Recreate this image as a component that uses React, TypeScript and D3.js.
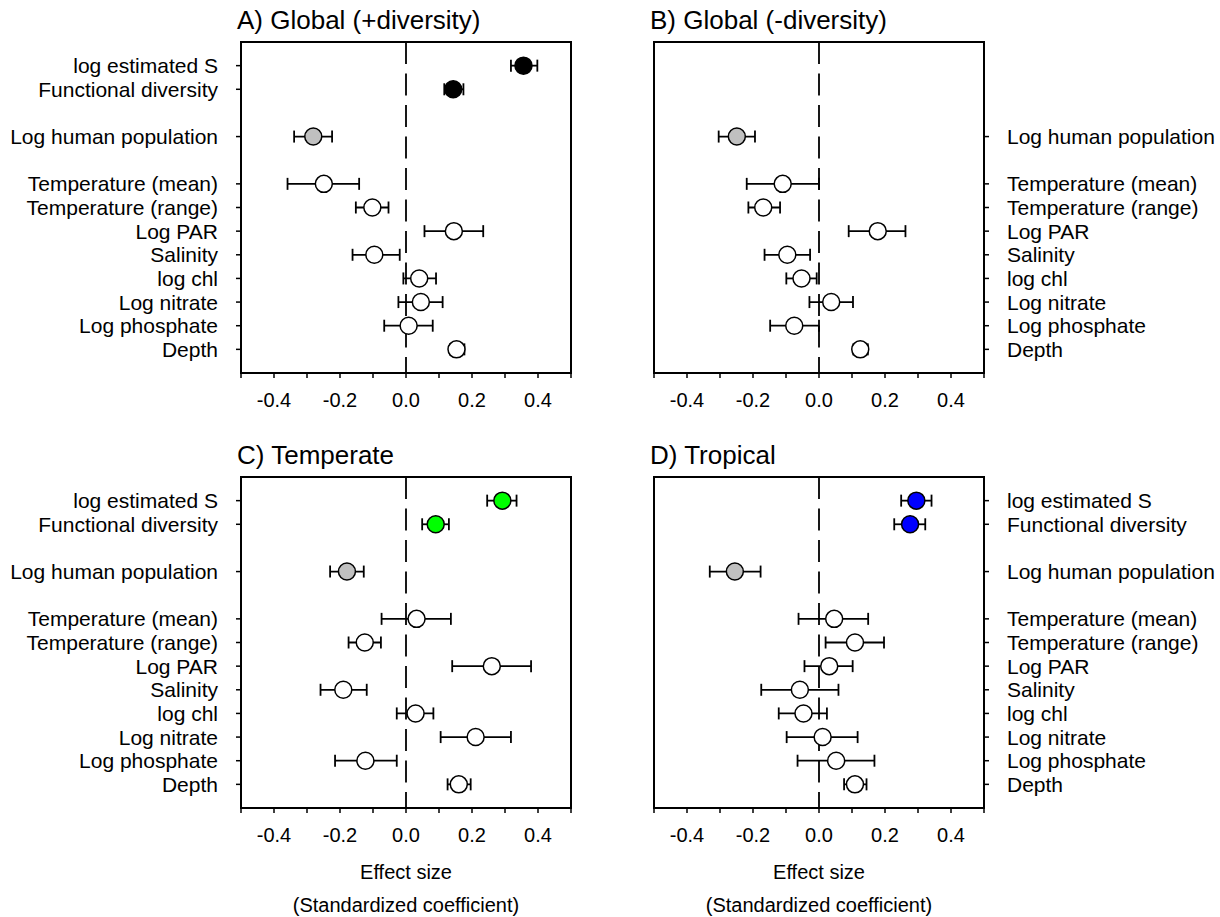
import React from "react"
import * as d3 from "d3"

// predictor rows, top to bottom, and the slot (in row units) each one sits in
const predictors = [
    "log estimated S",
    "Functional diversity",
    "Log human population",
    "Temperature (mean)",
    "Temperature (range)",
    "Log PAR",
    "Salinity",
    "log chl",
    "Log nitrate",
    "Log phosphate",
    "Depth",
]
const slots = [1, 2, 4, 6, 7, 8, 9, 10, 11, 12, 13]

// effect sizes with lower / upper error limits (null = not in model)
const globalPlusEst = [0.356, 0.143, -0.281, -0.249, -0.102, 0.145, -0.096, 0.04, 0.045, 0.008, 0.153]
const globalPlusLo = [0.318, 0.116, -0.339, -0.359, -0.152, 0.056, -0.162, -0.008, -0.023, -0.066, 0.133]
const globalPlusHi = [0.398, 0.174, -0.224, -0.142, -0.053, 0.234, -0.019, 0.091, 0.111, 0.081, 0.177]

const globalMinusEst = [null, null, -0.249, -0.11, -0.169, 0.178, -0.096, -0.053, 0.037, -0.075, 0.125]
const globalMinusLo = [null, null, -0.304, -0.219, -0.214, 0.09, -0.165, -0.099, -0.029, -0.148, 0.104]
const globalMinusHi = [null, null, -0.194, 0.0, -0.118, 0.262, -0.027, -0.007, 0.103, 0.0, 0.148]

const temperateEst = [0.292, 0.09, -0.179, 0.032, -0.125, 0.26, -0.19, 0.029, 0.211, -0.123, 0.16]
const temperateLo = [0.246, 0.049, -0.23, -0.074, -0.174, 0.14, -0.259, -0.028, 0.105, -0.215, 0.126]
const temperateHi = [0.335, 0.13, -0.128, 0.136, -0.076, 0.379, -0.119, 0.083, 0.318, -0.028, 0.196]

const tropicalEst = [0.295, 0.276, -0.255, 0.046, 0.109, 0.031, -0.058, -0.047, 0.011, 0.052, 0.109]
const tropicalLo = [0.249, 0.228, -0.331, -0.062, 0.02, -0.044, -0.175, -0.122, -0.098, -0.065, 0.076]
const tropicalHi = [0.341, 0.322, -0.177, 0.149, 0.197, 0.102, 0.059, 0.024, 0.117, 0.168, 0.144]

const xTicks = [-0.5, -0.4, -0.3, -0.2, -0.1, 0, 0.1, 0.2, 0.3, 0.4, 0.5]
const xLabelTicks = [-0.4, -0.2, 0, 0.2, 0.4]

const FONT = "'Liberation Sans', Arial, Helvetica, sans-serif"

type PanelProps = {
    title: string
    left: number
    top: number
    est: (number | null)[]
    lo: (number | null)[]
    hi: (number | null)[]
    divColor: string
    labelSide: "left" | "right"
    axisTitle: boolean
}

function Panel({ title, left, top, est, lo, hi, divColor, labelSide, axisTitle }: PanelProps) {
    const w = 330
    const h = 331
    const x = d3.scaleLinear().domain([-0.5, 0.5]).range([left, left + w])
    const y = d3.scaleLinear().domain([0, 14]).range([top, top + h])
    // plain hyphen for negatives, like the original
    const fmt = (v: number) => d3.format(".1f")(v).replace("\u2212", "-")
    const cap = 6
    const r = 8.5

    const fillFor = (i: number) => (i < 2 ? divColor : i === 2 ? "#c0c0c0" : "#ffffff")

    return (
        <g>
            <text x={left - 4} y={top - 13} fontSize={26} fontFamily={FONT}>
                {title}
            </text>
            {/* zero line */}
            <line
                x1={x(0)}
                x2={x(0)}
                y1={top}
                y2={top + h}
                stroke="#000"
                strokeWidth={1.8}
                strokeDasharray="22,9.5"
            />
            {/* x ticks */}
            {xTicks.map((t) => (
                <line key={t} x1={x(t)} x2={x(t)} y1={top + h} y2={top + h + 5} stroke="#000" strokeWidth={1.5} />
            ))}
            {xLabelTicks.map((t) => (
                <text key={t} x={x(t)} y={top + h + 34} textAnchor="middle" fontSize={20} fontFamily={FONT}>
                    {fmt(t)}
                </text>
            ))}
            {/* y ticks + labels */}
            {predictors.map((p, i) => {
                if (est[i] == null) return null
                const yy = y(slots[i])
                const bx = labelSide === "left" ? left : left + w
                const dir = labelSide === "left" ? -1 : 1
                return (
                    <g key={p}>
                        <line x1={bx} x2={bx + dir * 5} y1={yy} y2={yy} stroke="#000" strokeWidth={1.5} />
                        <text
                            x={bx + dir * 23}
                            y={yy}
                            dy="0.36em"
                            textAnchor={labelSide === "left" ? "end" : "start"}
                            fontSize={21}
                            fontFamily={FONT}
                        >
                            {p}
                        </text>
                    </g>
                )
            })}
            {/* error bars and points */}
            {predictors.map((p, i) => {
                const e = est[i]
                const l = lo[i]
                const u = hi[i]
                if (e == null || l == null || u == null) return null
                const yy = y(slots[i])
                return (
                    <g key={"pt" + p} stroke="#000" strokeWidth={1.8}>
                        <line x1={x(l)} x2={x(u)} y1={yy} y2={yy} />
                        <line x1={x(l)} x2={x(l)} y1={yy - cap} y2={yy + cap} />
                        <line x1={x(u)} x2={x(u)} y1={yy - cap} y2={yy + cap} />
                        <circle cx={x(e)} cy={yy} r={r} fill={fillFor(i)} strokeWidth={1.5} />
                    </g>
                )
            })}
            <rect x={left} y={top} width={w} height={h} fill="none" stroke="#000" strokeWidth={2} />
            {axisTitle && (
                <g fontSize={20} fontFamily={FONT} textAnchor="middle">
                    <text x={left + w / 2} y={top + h + 71}>
                        Effect size
                    </text>
                    <text x={left + w / 2} y={top + h + 104}>
                        (Standardized coefficient)
                    </text>
                </g>
            )}
        </g>
    )
}

export default function App() {
    return (
        <svg
            width={1220}
            height={917}
            viewBox="0 0 1220 917"
            style={{ position: "absolute", left: 0, top: 0, background: "#fff" }}
        >
            <rect width={1220} height={917} fill="#fff" />
            <Panel
                title="A) Global (+diversity)"
                left={241}
                top={42}
                est={globalPlusEst}
                lo={globalPlusLo}
                hi={globalPlusHi}
                divColor="#000000"
                labelSide="left"
                axisTitle={false}
            />
            <Panel
                title="B) Global (-diversity)"
                left={654}
                top={42}
                est={globalMinusEst}
                lo={globalMinusLo}
                hi={globalMinusHi}
                divColor="#000000"
                labelSide="right"
                axisTitle={false}
            />
            <Panel
                title="C) Temperate"
                left={241}
                top={477}
                est={temperateEst}
                lo={temperateLo}
                hi={temperateHi}
                divColor="#00ff00"
                labelSide="left"
                axisTitle={true}
            />
            <Panel
                title="D) Tropical"
                left={654}
                top={477}
                est={tropicalEst}
                lo={tropicalLo}
                hi={tropicalHi}
                divColor="#0000ff"
                labelSide="right"
                axisTitle={true}
            />
        </svg>
    )
}
